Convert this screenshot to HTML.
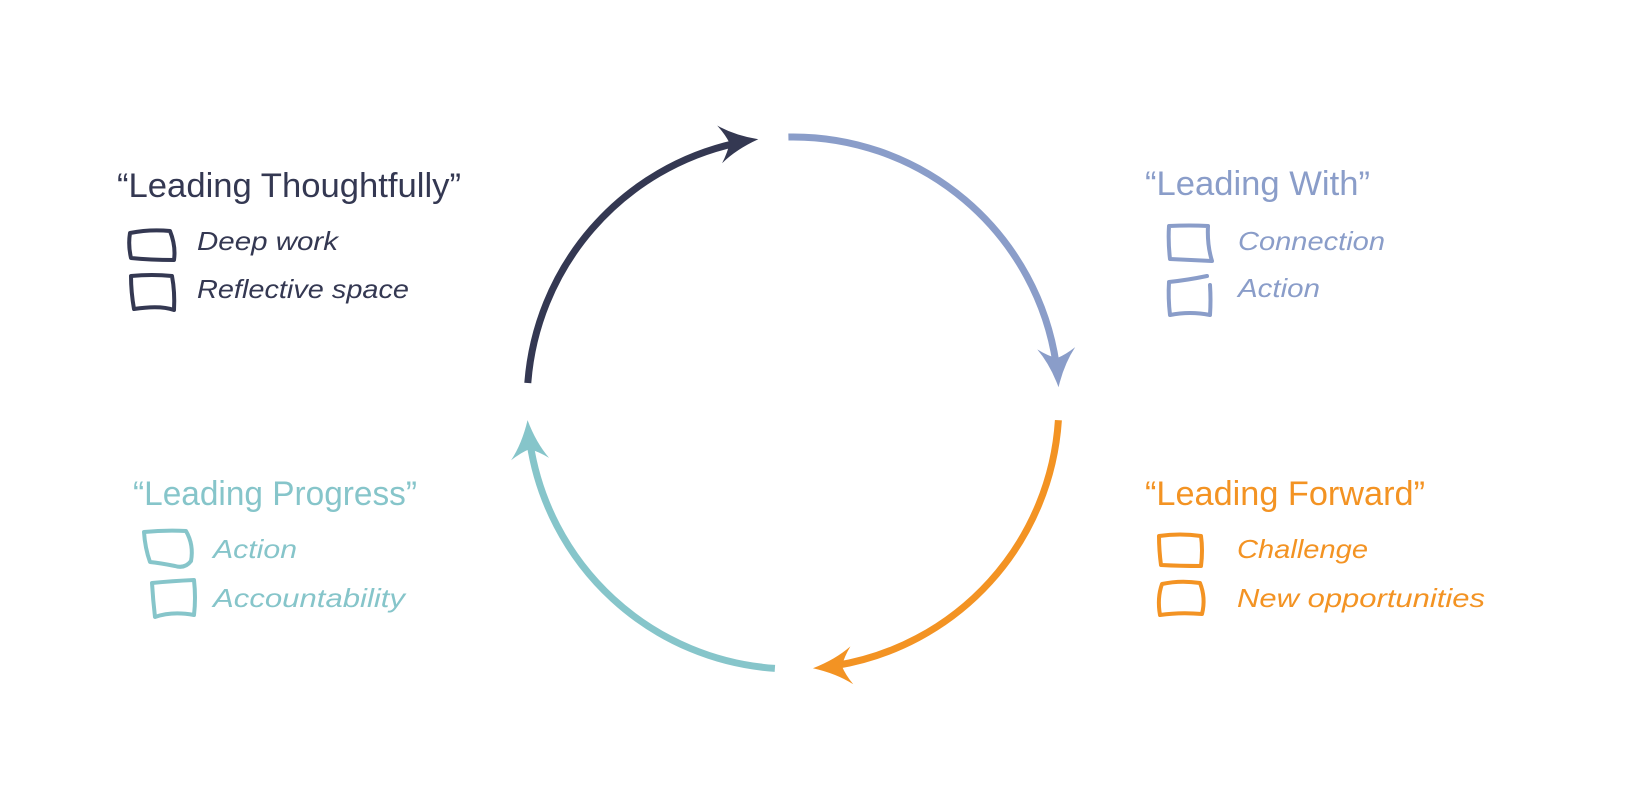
<!DOCTYPE html>
<html><head><meta charset="utf-8"><style>
html,body{margin:0;padding:0;background:#fff;}
svg{display:block;}
text{font-family:"Liberation Sans",sans-serif;}
.t{font-size:34px;}
.i{font-size:26px;font-style:italic;}
.b{fill:none;stroke-width:4;stroke-linecap:round;stroke-linejoin:round;}
</style></head><body>
<svg width="1648" height="789" viewBox="0 0 1648 789" xmlns="http://www.w3.org/2000/svg">
<rect width="1648" height="789" fill="#fff"/>
<g fill="none" stroke-width="7">
<path d="M527.8,383 A266,266 0 0 1 735.4,143.3" stroke="#343852"/>
<path d="M788.4,137 A266,266 0 0 1 1056.1,363.7" stroke="#8a9dc9"/>
<path d="M1058.4,420.2 A266,266 0 0 1 836,665.5" stroke="#f39323"/>
<path d="M774.9,668.4 A266,266 0 0 1 530,443.2" stroke="#86c5ca"/>
</g>
<g>
<path d="M1059,403 Q1052,380 1040,364 Q1050,371 1059,374 Q1068,371 1078,364 Q1066,380 1059,403 Z" fill="#343852" transform="rotate(262.5 793 403)"/>
<path d="M1059,403 Q1052,380 1040,364 Q1050,371 1059,374 Q1068,371 1078,364 Q1066,380 1059,403 Z" fill="#8a9dc9" transform="rotate(356.6 793 403)"/>
<path d="M1059,403 Q1052,380 1040,364 Q1050,371 1059,374 Q1068,371 1078,364 Q1066,380 1059,403 Z" fill="#f39323" transform="rotate(85.7 793 403)"/>
<path d="M1059,403 Q1052,380 1040,364 Q1050,371 1059,374 Q1068,371 1078,364 Q1066,380 1059,403 Z" fill="#86c5ca" transform="rotate(176.3 793 403)"/>
</g>
<g fill="#343852">
<text class="t" x="117" y="197" textLength="344" lengthAdjust="spacingAndGlyphs">“Leading Thoughtfully”</text>
<text class="i" x="197" y="250" textLength="141" lengthAdjust="spacingAndGlyphs">Deep work</text>
<text class="i" x="197" y="298" textLength="212" lengthAdjust="spacingAndGlyphs">Reflective space</text>
</g>
<g stroke="#343852" class="b">
<path d="M130,233 Q150,229 170,231 Q176,246 174,260 Q150,260 131,258 Q128,245 130,233 Z"/>
<path d="M131,276 Q152,274 172,276 Q175,292 174,310 Q160,305 134,309 Q131,292 131,276 Z"/>
</g>
<g fill="#8a9dc9">
<text class="t" x="1145" y="195" textLength="225" lengthAdjust="spacingAndGlyphs">“Leading With”</text>
<text class="i" x="1238" y="250" textLength="147" lengthAdjust="spacingAndGlyphs">Connection</text>
<text class="i" x="1238" y="297" textLength="82" lengthAdjust="spacingAndGlyphs">Action</text>
</g>
<g stroke="#8a9dc9" class="b">
<path d="M1169,226 Q1190,225 1208,226 Q1207,245 1212,261 Q1190,260 1170,259 Q1168,242 1169,226 Z"/>
<path d="M1169,282 Q1188,280 1207,276 M1210,285 Q1211,300 1210,315 Q1190,311 1170,315 Q1168,298 1169,282"/>
</g>
<g fill="#86c5ca">
<text class="t" x="133" y="505" textLength="284" lengthAdjust="spacingAndGlyphs">“Leading Progress”</text>
<text class="i" x="213" y="558" textLength="84" lengthAdjust="spacingAndGlyphs">Action</text>
<text class="i" x="213" y="607" textLength="192" lengthAdjust="spacingAndGlyphs">Accountability</text>
</g>
<g stroke="#86c5ca" class="b">
<path d="M144,532 Q165,530 186,531 Q194,545 191,561 Q185,569 175,566 Q160,563 150,562 Q145,548 144,532 Z"/>
<path d="M152,583 Q172,581 194,580 Q196,598 194,615 Q172,611 155,617 Q153,600 152,583 Z"/>
</g>
<g fill="#f39323">
<text class="t" x="1145" y="505" textLength="280" lengthAdjust="spacingAndGlyphs">“Leading Forward”</text>
<text class="i" x="1237" y="558" textLength="131" lengthAdjust="spacingAndGlyphs">Challenge</text>
<text class="i" x="1237" y="607" textLength="248" lengthAdjust="spacingAndGlyphs">New opportunities</text>
</g>
<g stroke="#f39323" class="b">
<path d="M1159,536 Q1180,533 1201,536 Q1203,550 1201,566 Q1180,566 1161,565 Q1159,550 1159,536 Z"/>
<path d="M1162,584 Q1180,580 1200,583 Q1206,598 1202,614 Q1180,612 1160,615 Q1157,598 1162,584 Z"/>
</g>
</svg>
</body></html>
